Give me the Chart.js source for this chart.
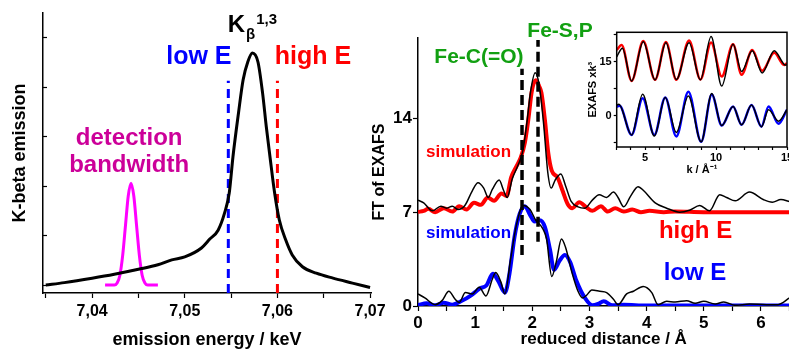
<!DOCTYPE html>
<html>
<head>
<meta charset="utf-8">
<script src="https://cdn.jsdelivr.net/npm/chart.js@4/dist/chart.umd.min.js"></script>
<style>
html, body { margin: 0; padding: 0; background: #fff; overflow: hidden; }
#wrap { position: relative; width: 789px; height: 354px; overflow: hidden; }
canvas { position: absolute; }
</style>
</head>
<body>
<div id="wrap">
  <canvas id="emission" width="400" height="354" style="left:0;top:0"></canvas>
  <canvas id="ft" width="440" height="354" style="left:360px;top:0"></canvas>
  <canvas id="inset" width="240" height="160" style="left:570px;top:20px"></canvas>
</div>
<script>
// ---- left panel: K-beta emission ----
const kbEnergy = [7.0350, 7.0370, 7.0400, 7.0424, 7.0450, 7.0471, 7.0486, 7.0500, 7.0518, 7.0527, 7.0536, 7.0543, 7.0548, 7.0552, 7.0558, 7.0563, 7.0568, 7.0573, 7.0579, 7.0584, 7.0588, 7.0592, 7.0597, 7.0602, 7.0609, 7.0616, 7.0627, 7.0642, 7.0660, 7.0681, 7.0700];
const kbSignal = [0.00, 0.05, 0.14, 0.22, 0.32, 0.41, 0.51, 0.57, 0.75, 0.93, 1.11, 1.46, 1.86, 2.59, 3.48, 4.15, 4.51, 4.69, 4.51, 3.88, 3.20, 2.59, 1.86, 1.32, 0.91, 0.61, 0.37, 0.24, 0.14, 0.04, -0.05];

const bandEnergy = [7.0414, 7.0424, 7.0427, 7.0430, 7.0433, 7.0436, 7.0439, 7.0442, 7.0445, 7.0448, 7.0451, 7.0454, 7.0457, 7.0460, 7.0471];
const bandSignal = [0, 0, 0.04, 0.2, 0.6, 1.2, 1.8, 2.06, 1.8, 1.2, 0.6, 0.2, 0.04, 0, 0];

const lowEEnergy = 7.0547;
const highEEnergy = 7.0600;
const markerSpan = [-0.16, 4.13];

// ---- right panel: FT of EXAFS ----
const highSimR = [0, 0.1, 0.18, 0.3, 0.45, 0.6, 0.72, 0.85, 0.98, 1.1, 1.22, 1.33, 1.46, 1.55, 1.63, 1.72, 1.8, 1.87, 1.93, 1.99, 2.06, 2.12, 2.16, 2.22, 2.28, 2.34, 2.44, 2.53, 2.62, 2.7, 2.82, 2.95, 3.05, 3.2, 3.32, 3.45, 3.6, 3.75, 3.9, 4.05, 4.3, 4.5, 5.0, 6.5];
const highSimFT = [7.02, 7.1, 7.25, 7.0, 7.3, 7.05, 7.45, 7.2, 7.7, 7.55, 8.1, 7.85, 8.4, 8.2, 9.6, 10.4, 11.1, 12.2, 13.9, 16.0, 16.85, 16.4, 15.9, 13.9, 11.4, 10.1, 9.6, 8.6, 7.6, 7.3, 7.75, 7.35, 7.1, 7.45, 7.05, 7.3, 7.05, 7.2, 7.0, 7.1, 7.0, 7.05, 7.0, 7.0];

const highExpR = [0, 0.1, 0.25, 0.4, 0.5, 0.6, 0.7, 0.82, 0.95, 1.05, 1.15, 1.23, 1.3, 1.42, 1.5, 1.56, 1.65, 1.75, 1.83, 1.9, 1.97, 2.05, 2.12, 2.2, 2.27, 2.33, 2.4, 2.5, 2.58, 2.68, 2.8, 2.92, 3.05, 3.17, 3.3, 3.42, 3.5, 3.6, 3.72, 3.85, 3.95, 4.15, 4.35, 4.58, 4.75, 4.93, 5.1, 5.28, 5.4, 5.55, 5.8, 6.04, 6.2, 6.35, 6.5];
const highExpFT = [7.9, 7.7, 7.1, 7.45, 7.3, 7.45, 7.2, 7.5, 8.6, 9.2, 8.8, 8.1, 8.7, 9.4, 8.6, 8.1, 9.5, 10.5, 11.5, 13.5, 16.0, 17.4, 16.5, 13.5, 10.0, 8.8, 9.4, 9.85, 9.0, 7.8, 7.4, 7.3, 7.9, 8.3, 8.1, 8.5, 8.1, 7.4, 8.2, 8.9, 8.6, 7.7, 7.3, 7.0, 7.15, 7.5, 7.1, 8.3, 8.1, 7.85, 8.5, 7.95, 7.75, 7.95, 7.8];

const lowSimR = [0, 0.15, 0.3, 0.45, 0.6, 0.75, 0.93, 1.08, 1.2, 1.31, 1.4, 1.52, 1.6, 1.69, 1.78, 1.87, 1.96, 2.04, 2.13, 2.22, 2.31, 2.38, 2.48, 2.57, 2.66, 2.77, 2.92, 3.05, 3.15, 3.25, 3.4, 3.6, 4.0, 6.5];
const lowSimFT = [0.07, 0.2, 0.05, 0.25, 0.1, 0.35, 0.8, 1.3, 1.55, 2.4, 1.9, 1.0, 2.4, 5.2, 6.9, 7.45, 6.8, 6.3, 6.4, 5.9, 4.2, 2.7, 3.4, 3.8, 3.3, 1.9, 0.6, 0.05, 0.15, 0.35, 0.05, 0.1, 0.03, 0.03];

const lowExpR = [0, 0.12, 0.3, 0.42, 0.54, 0.65, 0.72, 0.83, 0.95, 1.07, 1.19, 1.3, 1.36, 1.45, 1.52, 1.62, 1.72, 1.84, 1.96, 2.06, 2.18, 2.25, 2.34, 2.42, 2.51, 2.58, 2.7, 2.8, 2.88, 2.95, 3.04, 3.18, 3.3, 3.42, 3.5, 3.65, 3.77, 3.94, 4.09, 4.2, 4.35, 4.5, 4.7, 4.85, 5.0, 5.2, 5.35, 5.55, 5.8, 6.1, 6.3, 6.5];
const lowExpFT = [0.9, 0.6, 0.1, 0.4, 1.1, 0.5, 0.27, 1.0, 0.9, 1.4, 0.75, 2.0, 2.5, 1.8, 0.9, 3.5, 6.0, 7.5, 7.2, 6.4, 5.8, 5.0, 2.2, 3.3, 5.0, 4.4, 2.4, 1.1, 0.6, 0.8, 1.2, 1.1, 1.0, 0.5, 0.1, 0.9, 1.1, 1.45, 1.0, 0.1, 0.35, 0.3, 0.4, 0.2, 0.35, 0.15, 0.3, 0.05, 0.15, 0.1, 0.1, 0.6];

const feCR = 1.82, feCSpan = [3.8, 17.7];
const feSR = 2.10, feSSpan = [4.8, 19.85];

// ---- inset: EXAFS in k space ----
const highSimK = [3.0, 3.35, 4.05, 4.87, 5.7, 6.47, 7.2, 8.1, 8.9, 9.65, 10.4, 11.2, 11.8, 12.55, 13.25, 14.1, 14.8, 15.0];
const highSimChi = [18.2, 19.6, 9.6, 20.7, 9.9, 20.4, 9.9, 20.8, 10.0, 20.3, 10.8, 19.8, 11.3, 18.2, 12.4, 17.4, 14.0, 14.6];
const highExpK = [3.0, 3.4, 4.05, 4.87, 5.7, 6.47, 7.2, 8.1, 8.9, 9.65, 10.4, 11.2, 11.8, 12.55, 13.25, 14.1, 14.9, 15.0];
const highExpChi = [16.3, 18.7, 9.6, 20.5, 9.9, 20.2, 10.0, 20.2, 9.9, 21.9, 8.2, 19.8, 12.2, 18.0, 11.8, 18.0, 14.0, 14.1];
const lowSimK = [3.0, 3.2, 4.05, 4.83, 5.65, 6.42, 7.2, 8.05, 8.95, 9.7, 10.4, 11.2, 11.8, 12.5, 13.2, 13.7, 14.4, 15.0];
const lowSimChi = [2.5, 2.7, -5.4, 4.8, -5.4, 5.0, -5.8, 6.6, -7.3, 5.8, -2.8, 2.5, -2.6, 2.9, -3.1, 2.5, -2.3, 1.6];
const lowExpK = [3.0, 3.15, 4.05, 4.83, 5.65, 6.42, 7.2, 8.05, 8.95, 9.7, 10.4, 11.2, 11.8, 12.5, 13.2, 13.7, 14.4, 15.0];
const lowExpChi = [2.9, 3.1, -5.4, 5.9, -5.7, 5.0, -4.7, 5.4, -7.3, 6.1, -2.8, 2.5, -2.6, 2.9, -3.1, 1.6, -1.6, 1.6];

const FONT = "'Liberation Sans', Arial, Helvetica, sans-serif";
const RED = "#ff0000", BLUE = "#0000ff", GREEN = "#12a012", MAGENTA = "#ff00ff", PLUM = "#cc0099";

Chart.defaults.font.family = FONT;
Chart.defaults.font.weight = "bold";
Chart.defaults.color = "#000";

const pts = (xs, ys) => xs.map((x, i) => ({ x: x, y: ys[i] }));
const isMajor = (v, step) => Math.abs(v / step - Math.round(v / step)) < 1e-6;

const line = (data, color, width, extra) => Object.assign({
    data: data,
    borderColor: color,
    borderWidth: width,
    pointRadius: 0,
    fill: false,
    cubicInterpolationMode: "monotone"
}, extra || {});

// text labels anchored in data coordinates
const makeNotes = (items) => ({
    id: "notes",
    afterDatasetsDraw(chart) {
        const ctx = chart.ctx;
        const xs = chart.scales.x, ys = chart.scales.y;
        items.forEach(n => {
            let px = xs.getPixelForValue(n.x);
            const py = ys.getPixelForValue(n.y);
            ctx.save();
            ctx.fillStyle = n.color;
            if (n.parts) {
                ctx.textAlign = "left";
                ctx.textBaseline = "alphabetic";
                n.parts.forEach(p => {
                    ctx.font = "bold " + p.size + "px " + FONT;
                    ctx.fillText(p.text, px, py + p.dy);
                    px += ctx.measureText(p.text).width + (p.gap || 0);
                });
            } else {
                ctx.textAlign = "center";
                ctx.textBaseline = "middle";
                ctx.font = "bold " + n.size + "px " + FONT;
                ctx.fillText(n.text, px, py);
            }
            ctx.restore();
        });
    }
});

const boxPlugin = {
    id: "box",
    afterDraw(chart) {
        const a = chart.chartArea, ctx = chart.ctx;
        ctx.save();
        ctx.strokeStyle = "#000";
        ctx.lineWidth = 1.5;
        ctx.strokeRect(a.left, a.top, a.right - a.left, a.bottom - a.top);
        ctx.restore();
    }
};

const tickGrid = (len) => ({ display: true, drawOnChartArea: false, drawTicks: true, tickLength: len, tickColor: "#000", tickWidth: 1.2 });

const baseOptions = {
    responsive: false,
    animation: false,
    events: [],
    plugins: { legend: { display: false }, tooltip: { enabled: false } }
};

// ---------- left chart ----------
new Chart(document.getElementById("emission"), {
    type: "line",
    data: {
        datasets: [
            line(pts(kbEnergy, kbSignal), "#000", 3),
            line(pts(bandEnergy, bandSignal), MAGENTA, 3),
            line(pts([lowEEnergy, lowEEnergy], markerSpan), BLUE, 3, { borderDash: [9, 6], cubicInterpolationMode: "default" }),
            line(pts([highEEnergy, highEEnergy], markerSpan), RED, 3, { borderDash: [9, 6], cubicInterpolationMode: "default" })
        ]
    },
    options: Object.assign({}, baseOptions, {
        layout: { padding: { top: 13, right: 29, left: 0, bottom: 0 } },
        scales: {
            x: {
                type: "linear", min: 7.0347, max: 7.0701,
                border: { color: "#000", width: 1.5 },
                grid: tickGrid(5),
                ticks: {
                    stepSize: 0.005, includeBounds: false, autoSkip: false, maxRotation: 0, padding: 4,
                    font: { size: 16, weight: "bold" },
                    callback: v => isMajor(v, 0.01) ? v.toFixed(2).replace(".", ",") : ""
                },
                title: { display: true, text: "emission energy / keV", font: { size: 18, weight: "bold" }, padding: { top: 0, bottom: 3 } },
                afterFit: s => { s.height = 61; }
            },
            y: {
                type: "linear", min: -0.16, max: 5.5,
                border: { color: "#000", width: 1.5 },
                grid: tickGrid(-4),
                ticks: { stepSize: 1, includeBounds: false, autoSkip: false, font: { size: 8 }, callback: () => "" },
                title: { display: true, text: "K-beta emission", font: { size: 18, weight: "bold" }, padding: { top: 9, bottom: 0 } },
                afterFit: s => { s.width = 43; }
            }
        }
    }),
    plugins: [makeNotes([
        { x: 7.05464, y: 5.12, color: "#000", parts: [
            { text: "K", size: 24, dy: 0, gap: 1 },
            { text: "\u03b2", size: 15, dy: 7, gap: 1 },
            { text: "1,3", size: 15, dy: -8 }
        ] },
        { text: "low E", x: 7.05152, y: 4.61, color: BLUE, size: 25 },
        { text: "high E", x: 7.06384, y: 4.61, color: RED, size: 25 },
        { text: "detection", x: 7.0440, y: 2.97, color: PLUM, size: 24 },
        { text: "bandwidth", x: 7.0440, y: 2.41, color: PLUM, size: 24 }
    ])]
});

// ---------- right chart ----------
new Chart(document.getElementById("ft"), {
    type: "line",
    data: {
        datasets: [
            line(pts(highExpR, highExpFT), "#000", 1.5),
            line(pts(lowExpR, lowExpFT), "#000", 1.5),
            line(pts([feCR, feCR], feCSpan), "#000", 3.5, { borderDash: [10, 5], cubicInterpolationMode: "default" }),
            line(pts([feSR, feSR], feSSpan), "#000", 3.5, { borderDash: [10, 5], cubicInterpolationMode: "default" }),
            line(pts(highSimR, highSimFT), RED, 4),
            line(pts(lowSimR, lowSimFT), BLUE, 4)
        ]
    },
    options: Object.assign({}, baseOptions, {
        layout: { padding: { top: 38, right: 10.5, left: 0, bottom: 0 } },
        scales: {
            x: {
                type: "linear", min: 0, max: 6.5,
                border: { color: "#000", width: 1.5 },
                grid: tickGrid(5),
                ticks: {
                    stepSize: 0.5, autoSkip: false, maxRotation: 0, padding: 2,
                    font: { size: 17, weight: "bold" },
                    callback: v => isMajor(v, 1) ? String(Math.round(v)) : ""
                },
                title: { display: true, text: "reduced distance / \u00c5", font: { size: 17, weight: "bold" }, padding: { top: 0, bottom: 4 } },
                afterFit: s => { s.height = 48; }
            },
            y: {
                type: "linear", min: 0, max: 20,
                border: { color: "#000", width: 1.5 },
                grid: tickGrid(5),
                ticks: { stepSize: 7, includeBounds: false, autoSkip: false, padding: 1, font: { size: 17, weight: "bold" } },
                title: { display: true, text: "FT of EXAFS", font: { size: 16, weight: "bold" }, padding: { top: 10, bottom: 0 } },
                afterFit: s => { s.width = 58; }
            }
        }
    }),
    plugins: [makeNotes([
        { text: "Fe-S,P", x: 2.485, y: 20.47, color: GREEN, size: 21 },
        { text: "Fe-C(=O)", x: 1.067, y: 18.58, color: GREEN, size: 21 },
        { text: "simulation", x: 0.884, y: 11.49, color: RED, size: 17 },
        { text: "simulation", x: 0.884, y: 5.45, color: BLUE, size: 17 },
        { text: "high E", x: 4.856, y: 5.6, color: RED, size: 24 },
        { text: "low E", x: 4.847, y: 2.46, color: BLUE, size: 24 }
    ])]
});

// ---------- inset ----------
new Chart(document.getElementById("inset"), {
    type: "line",
    data: {
        datasets: [
            line(pts(highExpK, highExpChi), "#000", 1.5),
            line(pts(lowExpK, lowExpChi), "#000", 1.5),
            line(pts(highSimK, highSimChi), RED, 2.5),
            line(pts(lowSimK, lowSimChi), BLUE, 2.5)
        ]
    },
    options: Object.assign({}, baseOptions, {
        layout: { padding: { top: 12.3, right: 23, left: 0, bottom: 0 } },
        scales: {
            x: {
                type: "linear", min: 3, max: 15,
                border: { display: false },
                grid: tickGrid(3),
                ticks: {
                    stepSize: 1, autoSkip: false, maxRotation: 0, padding: 1,
                    font: { size: 11, weight: "bold" },
                    callback: v => isMajor(v, 5) ? String(Math.round(v)) : ""
                },
                title: { display: true, text: "k / \u00c5\u207b\u00b9", font: { size: 11, weight: "bold" }, padding: { top: 0, bottom: 3.4 } },
                afterFit: s => { s.height = 33; }
            },
            y: {
                type: "linear", min: -8.75, max: 23.1,
                border: { display: false },
                grid: tickGrid(3),
                ticks: {
                    stepSize: 7.5, includeBounds: false, autoSkip: false, padding: 2,
                    font: { size: 11, weight: "bold" },
                    callback: v => (isMajor(v, 15) ? String(Math.round(v)) : "")
                },
                title: { display: true, text: "EXAFS xk\u00b3", font: { size: 11, weight: "bold" }, padding: { top: 16.4, bottom: 0 } },
                afterFit: s => { s.width = 46.7; }
            }
        }
    }),
    plugins: [boxPlugin]
});
</script>
</body>
</html>
